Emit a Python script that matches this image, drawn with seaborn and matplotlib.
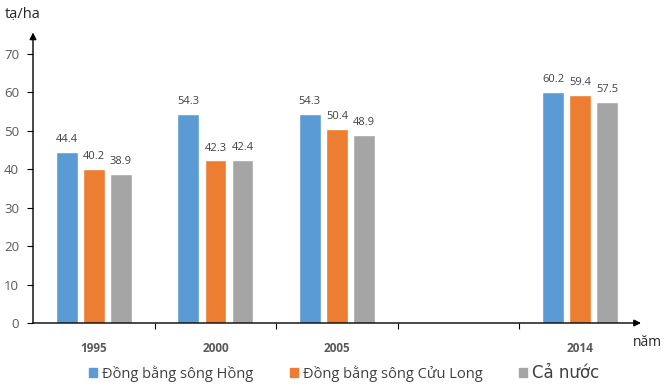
import pandas as pd
import numpy as np
import matplotlib.pyplot as plt
import seaborn as sns

years = ["1995", "2000", "2005", "2014"]
slots = ["1995", "2000", "2005", "gap", "2014"]
series = ["Đồng bằng sông Hồng", "Đồng bằng sông Cửu Long", "Cả nước"]
song_hong = [44.4, 54.3, 54.3, 60.2]
cuu_long = [40.2, 42.3, 50.4, 59.4]
ca_nuoc = [38.9, 42.4, 48.9, 57.5]
colors = ["#5B9BD5", "#ED7D31", "#A5A5A5"]

df = pd.DataFrame({
    "year": years * 3,
    "region": [s for s in series for _ in years],
    "value": song_hong + cuu_long + ca_nuoc,
})

sns.set_style("white")
plt.rcParams["font.family"] = ["Open Sans", "DejaVu Sans"]

fig = plt.figure(figsize=(6.71, 3.89), dpi=100)
ax = fig.add_axes([33 / 671, 1 - 323 / 389, (641 - 33) / 671, (323 - 54) / 389])

sns.barplot(data=df, x="year", y="value", hue="region", order=slots,
            hue_order=series, palette=colors, width=0.67, gap=0.2,
            saturation=1, ax=ax, legend=False)

for cont in ax.containers:
    ax.bar_label(cont, fmt="%.1f", padding=5, fontsize=8, color="#404040")

ax.set_xlim(-0.5, 4.5)
ax.set_ylim(0, 70)
ax.set_yticks(range(0, 71, 10))
ax.tick_params(axis="y", length=4, width=0.8, color="black", direction="out",
               left=True, labelsize=9.5, labelcolor="#595959", pad=6)
ax.set_xticks(range(len(slots)))
ax.set_xticklabels(["1995", "2000", "2005", "", "2014"], fontweight="bold",
                   fontsize=8.5, color="#595959")
ax.tick_params(axis="x", length=0, pad=14)
ax.set_xticks([0.5, 1.5, 2.5, 3.5], minor=True)
ax.tick_params(axis="x", which="minor", length=4, width=0.8, color="black",
               direction="out", bottom=True)
ax.set_xlabel("")
ax.set_ylabel("")
for s in ax.spines.values():
    s.set_visible(False)

# axis arrows
ax.annotate("", xy=(1.0, 0), xytext=(0, 0), xycoords="axes fraction",
            arrowprops=dict(arrowstyle="-|>", color="black", lw=1.0,
                            mutation_scale=10, shrinkA=0, shrinkB=0),
            annotation_clip=False)
ax.annotate("", xy=(0, 1.08), xytext=(0, 0), xycoords="axes fraction",
            arrowprops=dict(arrowstyle="-|>", color="black", lw=1.0,
                            mutation_scale=10, shrinkA=0, shrinkB=0),
            annotation_clip=False)

fig.text(5 / 671, 1 - 14 / 389, "tạ/ha", fontsize=10.5, va="center", ha="left")
fig.text(633 / 671, 1 - 343 / 389, "năm", fontsize=10, va="center", ha="left")

handles = [plt.Rectangle((0, 0), 1, 1, color=c) for c in colors]
leg = fig.legend(handles, series, loc="center", bbox_to_anchor=(344 / 671, 1 - 373 / 389),
                 ncol=3, frameon=False, fontsize=10.5, handlelength=0.55,
                 handleheight=0.55, handletextpad=0.35, columnspacing=2.5)
for t in leg.get_texts():
    t.set_color("#404040")
leg.get_texts()[2].set_fontsize(12)
leg.get_texts()[2].set_family(["DejaVu Sans"])

fig.savefig("out.png", dpi=100)
